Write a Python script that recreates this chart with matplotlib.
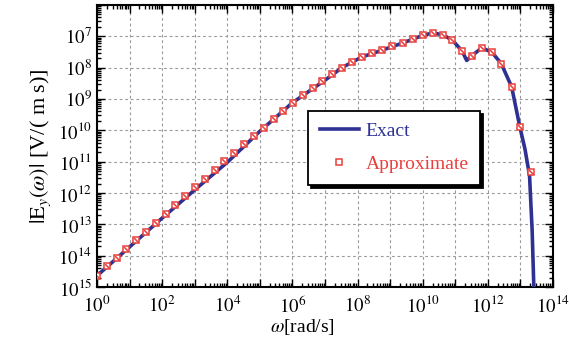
import numpy as np
import matplotlib
matplotlib.use("Agg")
import matplotlib.pyplot as plt
from matplotlib.ticker import LogLocator, FixedLocator, NullFormatter

# values as log10 exponents
APPROX_W_EXP = [0.00, 0.30, 0.60, 0.90, 1.20, 1.51, 1.81, 2.11, 2.41, 2.71,
                3.01, 3.31, 3.61, 3.91, 4.21, 4.52, 4.82, 5.12, 5.42, 5.72,
                6.02, 6.32, 6.62, 6.92, 7.22, 7.52, 7.83, 8.13, 8.45, 8.76,
                9.07, 9.39, 9.69, 10.00, 10.31, 10.61, 10.91, 11.21, 11.51,
                11.81, 12.12, 12.41, 12.73, 12.98, 13.32]
APPROX_E_EXP = [-14.64, -14.34, -14.07, -13.78, -13.51, -13.23, -12.95, -12.66,
                -12.37, -12.08, -11.81, -11.54, -11.25, -10.98, -10.72, -10.45,
                -10.19, -9.92, -9.65, -9.39, -9.12, -8.88, -8.64, -8.43, -8.19,
                -8.00, -7.82, -7.66, -7.54, -7.44, -7.31, -7.21, -7.10, -6.97,
                -6.89, -6.95, -7.12, -7.47, -7.62, -7.37, -7.50, -7.87, -8.61,
                -9.88, -11.32]

EXACT_W_EXP = [0.00, 1.00, 2.00, 3.00, 4.00, 5.00, 6.00, 7.00, 7.52, 8.13,
               8.76, 9.39, 10.00, 10.31, 10.61, 10.91, 11.21, 11.35, 11.51,
               11.81, 12.12, 12.41, 12.73, 12.98, 13.14, 13.28, 13.36, 13.42]
EXACT_E_EXP = [-14.64, -13.72, -12.80, -11.90, -11.02, -10.03, -9.12, -8.40,
               -8.00, -7.66, -7.44, -7.21, -6.97, -6.89, -6.95, -7.12, -7.47,
               -7.77, -7.62, -7.37, -7.50, -7.87, -8.61, -9.88, -10.60,
               -11.45, -13.20, -15.30]

Y_TICK_LABELS = ["$10^{15}$", "$10^{14}$", "$10^{13}$", "$10^{12}$", "$10^{11}$",
                 "$10^{10}$", "$10^{9}$", "$10^{8}$", "$10^{7}$"]
X_TICK_LABELS = ["$10^{0}$", "$10^{2}$", "$10^{4}$", "$10^{6}$", "$10^{8}$",
                 "$10^{10}$", "$10^{12}$", "$10^{14}$"]

BLUE = "#2e3192"
RED = "#e8403c"

plt.rcParams["font.family"] = ["Liberation Serif", "DejaVu Serif"]
plt.rcParams["mathtext.fontset"] = "stix"


def main():
    fig = plt.figure(figsize=(5.69, 3.41), dpi=100)
    ax = fig.add_axes([97 / 569, 1 - 287 / 341, 456 / 569, 282 / 341])

    ew = 10.0 ** np.array(EXACT_W_EXP)
    ee = 10.0 ** np.array(EXACT_E_EXP)
    aw = 10.0 ** np.array(APPROX_W_EXP)
    ae = 10.0 ** np.array(APPROX_E_EXP)

    ax.plot(ew, ee, color=BLUE, lw=2.6, label="Exact", zorder=3)

    ax.plot(aw, ae, ls="none", marker="s", ms=5, mfc="white", mec=RED,
            mew=1.1, label="Approximate", zorder=4)
    ax.plot(aw, ae, ls="none", marker=(2, 2, 45), ms=4.5, mec=RED, mew=0.8,
            zorder=5)

    ax.set_xscale("log")
    ax.set_yscale("log")
    ax.set_xlim(1, 1e14)
    ax.set_ylim(1e-15, 1e-6)

    ax.xaxis.set_major_locator(FixedLocator([10.0 ** k for k in range(15)]))
    ax.set_xticklabels([X_TICK_LABELS[k // 2] if k % 2 == 0 else "" for k in range(15)])
    ax.xaxis.set_minor_locator(LogLocator(base=10, subs=np.arange(2, 10), numticks=100))
    ax.xaxis.set_minor_formatter(NullFormatter())

    ax.yaxis.set_major_locator(FixedLocator([10.0 ** k for k in range(-15, -5)]))
    ax.set_yticklabels(Y_TICK_LABELS + [""])
    ax.yaxis.set_minor_locator(LogLocator(base=10, subs=np.arange(2, 10), numticks=100))
    ax.yaxis.set_minor_formatter(NullFormatter())

    ax.tick_params(which="both", direction="in", top=True, right=True,
                   labelsize=13.5, width=1.0)
    ax.tick_params(which="major", length=6)
    ax.tick_params(which="minor", length=3)
    ax.tick_params(axis="x", pad=6)
    for s in ax.spines.values():
        s.set_linewidth(1.5)

    ax.grid(True, which="major", color="#9a9a9a", linestyle=(0, (2.5, 2.5)), lw=0.8)

    ax.set_xlabel(r"$\omega$[rad/s]", fontsize=14)
    ax.xaxis.set_label_coords(0.45, -0.105)
    ax.set_ylabel(r"$|\mathrm{E}_y(\omega)|$ [V/( m s)]", fontsize=16, labelpad=4)

    leg = ax.legend(loc="upper left", bbox_to_anchor=(0.463, 0.625), fontsize=14,
                    handlelength=2.0, handletextpad=0.35, borderpad=0.6,
                    labelspacing=0.8, borderaxespad=0,
                    fancybox=False, edgecolor="black", framealpha=1,
                    shadow={"color": "black", "alpha": 1, "shade": 0})
    leg.get_frame().set_linewidth(1.3)
    leg.get_texts()[0].set_color(BLUE)
    leg.get_texts()[1].set_color(RED)

    fig.savefig("out.png", dpi=100)
    plt.close(fig)


if __name__ == "__main__":
    main()
